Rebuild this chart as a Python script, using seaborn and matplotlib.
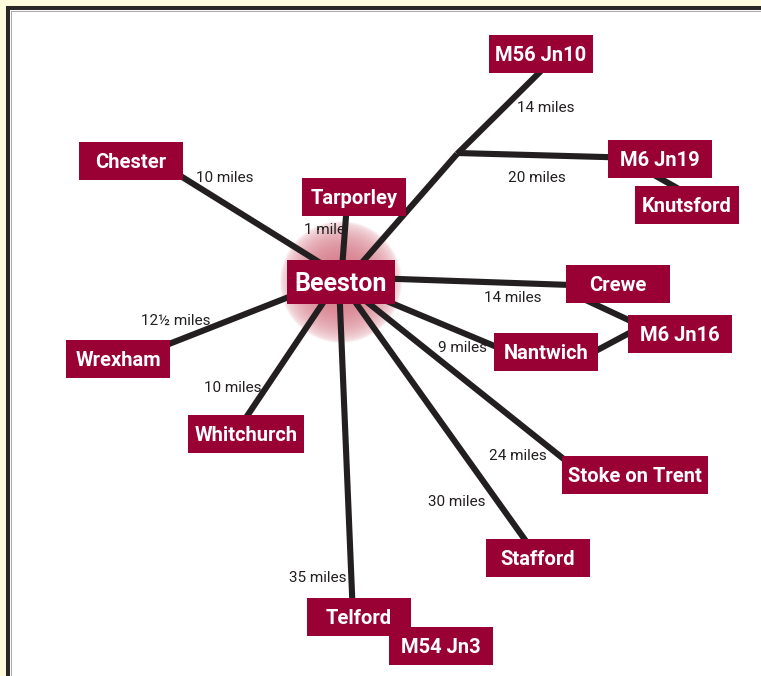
import numpy as np
import pandas as pd
import matplotlib
matplotlib.use("Agg")
import matplotlib.pyplot as plt
from matplotlib.patches import Rectangle
import seaborn as sns

# ---------------- data ----------------
place_names = ['M56 Jn10', 'Chester', 'M6 Jn19', 'Knutsford', 'Tarporley', 'Beeston',
               'Crewe', 'M6 Jn16', 'Wrexham', 'Nantwich', 'Whitchurch',
               'Stoke on Trent', 'Stafford', 'Telford', 'M54 Jn3']
place_x = [541, 131, 660, 687, 354, 341, 618, 680, 118, 546, 246, 635, 538, 359, 441]
place_y = [54, 161, 159, 205, 197, 282, 284, 334, 359, 352, 434, 475, 558, 617, 646]

# road segments (start -> end)
road_x0 = [345, 457, 457, 640, 351, 341, 341, 575, 575, 341, 327, 337, 339, 341, 342]
road_y0 = [282, 154, 153, 167, 282, 282, 277, 295, 362, 282, 282, 282, 282, 282, 282]
road_x1 = [457, 548, 640, 700, 150, 348, 600, 650, 650, 540, 118, 235, 353, 538, 600]
road_y1 = [154, 64, 158, 201, 157, 190, 286, 330, 322, 365, 364, 434, 617, 558, 488]

distance_labels = ['14 miles', '20 miles', '10 miles', '1 mile', '14 miles', '12½ miles',
                   '9 miles', '10 miles', '24 miles', '30 miles', '35 miles']
distance_x = [546, 537, 225, 324, 513, 176, 463, 233, 518, 457, 318]
distance_y = [107, 176, 176, 228, 296, 319, 346, 386, 454, 500, 576]

hub = 'Beeston'

# ---------------- style ----------------
W, H = 761, 676
BOX = '#990033'
INK = '#231f20'
CREAM = '#fffbdc'

sns.set_theme(style='white')
plt.rcParams['font.family'] = ['Roboto', 'DejaVu Sans']

fig = plt.figure(figsize=(W / 100, H / 100), dpi=100, facecolor=CREAM)
ax = fig.add_axes([0, 0, 1, 1])
ax.set_facecolor(CREAM)

# frame
ax.add_patch(Rectangle((8, 8), 900, 900, facecolor='white', edgecolor='#2b2727',
                       linewidth=2.9, zorder=0))
ax.add_patch(Rectangle((10.6, 10.6), 900, 900, facecolor='none', edgecolor='#9a9a9a',
                       linewidth=0.6, zorder=0.5))

# glow behind the hub
hi = place_names.index(hub)
hx, hy = place_x[hi], place_y[hi]
R = 62
n = 300
g = np.linspace(-1, 1, n)
gx, gy = np.meshgrid(g, g)
rr = np.sqrt(gx ** 2 + gy ** 2)
alpha = 0.62 * np.clip(1 - rr ** 2, 0, 1) ** 0.6
alpha = alpha * np.clip((1 - rr) / 0.04, 0, 1)
img = np.zeros((n, n, 4))
img[..., 0] = 0.74
img[..., 1] = 0.16
img[..., 2] = 0.25
img[..., 3] = alpha
ax.imshow(img, extent=(hx - R, hx + R, hy + R, hy - R), zorder=1,
          interpolation='bilinear', aspect='auto')

# roads
rows = []
for i in range(len(road_x0)):
    rows.append({'road': i, 'k': 0, 'x': road_x0[i], 'y': road_y0[i]})
    rows.append({'road': i, 'k': 1, 'x': road_x1[i], 'y': road_y1[i]})
roads = pd.DataFrame(rows)
sns.lineplot(data=roads, x='x', y='y', units='road', estimator=None, sort=False,
             color=INK, linewidth=4.4, ax=ax, zorder=2, legend=False)
for ln in ax.get_lines():
    ln.set_solid_capstyle('butt')
ax.set_xlim(0, W)
ax.set_ylim(H, 0)
ax.axis('off')

# distance labels
for lab, x, y in zip(distance_labels, distance_x, distance_y):
    ax.text(x, y + 5.5, lab, ha='center', va='baseline', fontsize=11, color=INK, zorder=3)

# place boxes
renderer = fig.canvas.get_renderer()
for i, (name, x, y) in enumerate(zip(place_names, place_x, place_y)):
    is_hub = name == hub
    fs = 18 if is_hub else 14.5
    fs_px = fs * 100 / 72
    t = ax.text(x, y + 0.355 * fs_px, name, ha='center', va='baseline', fontsize=fs,
                fontweight='bold', color='white', zorder=5 + 2 * i)
    tw = t.get_window_extent(renderer).width
    bw = tw + 15 if is_hub else max(104, tw + 13)
    bh = 44 if is_hub else 38
    ax.add_patch(Rectangle((x - bw / 2, y - bh / 2), bw, bh, facecolor=BOX,
                           edgecolor='none', zorder=4 + 2 * i))

fig.savefig('out.png', dpi=100, facecolor=CREAM)
